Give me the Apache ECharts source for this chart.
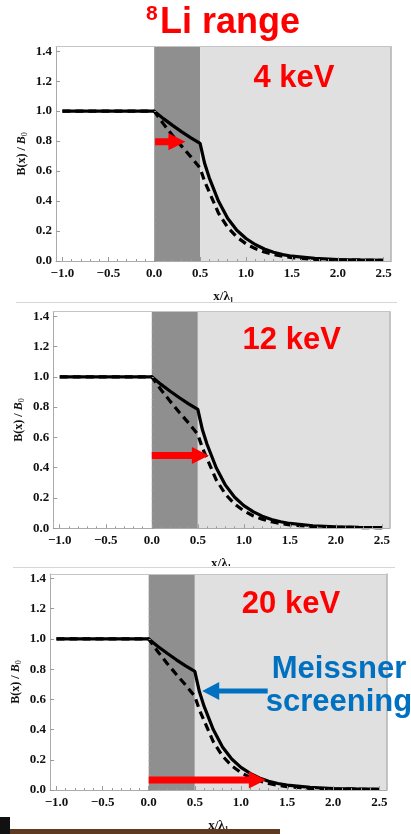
<!DOCTYPE html>
<html>
<head>
<meta charset="utf-8">
<title>8Li range</title>
<script src="https://cdn.jsdelivr.net/npm/echarts@6/dist/echarts.min.js"></script>
<style>
  html, body { margin: 0; padding: 0; background: #ffffff; }
  #chart { width: 411px; height: 834px; }
</style>
</head>
<body>
<div id="chart"></div>
<script>
// Axis tick labels
const xTicks = [-1.0, -0.5, 0.0, 0.5, 1.0, 1.5, 2.0, 2.5];
const yTicks = [0.0, 0.2, 0.4, 0.6, 0.8, 1.0, 1.2, 1.4];

// Implantation energies, one panel each
const energies = ['4 keV', '12 keV', '20 keV'];

// Field profile B(x)/B0 with the surface layer (solid)
const solidX = [-1.0, 0.0, 0.1, 0.2, 0.3, 0.4, 0.5, 0.55, 0.6, 0.7, 0.8, 0.9, 1.0, 1.1, 1.2, 1.3, 1.4, 1.5, 1.75, 2.0, 2.25, 2.5];
const solidB = [1.0, 1.0, 0.95, 0.905, 0.862, 0.822, 0.785, 0.65, 0.555, 0.40, 0.285, 0.205, 0.15, 0.11, 0.08, 0.058, 0.043, 0.032, 0.017, 0.010, 0.007, 0.005];

// Field profile of the bare bulk (dashed)
const dashedX = [-1.0, 0.0, 0.1, 0.2, 0.3, 0.4, 0.5, 0.55, 0.6, 0.7, 0.8, 0.9, 1.0, 1.1, 1.2, 1.3, 1.4, 1.5, 1.75, 2.0, 2.25, 2.5];
const dashedB = [1.0, 1.0, 0.915, 0.838, 0.765, 0.695, 0.62, 0.53, 0.46, 0.32, 0.225, 0.16, 0.115, 0.083, 0.06, 0.043, 0.031, 0.022, 0.011, 0.007, 0.005, 0.004];

// Surface layer boundaries (x / lambda1)
const layerEdges = [0.0, 0.5];

// Red arrows: mean stopping depth of the implanted 8Li at each energy
const arrowStart = [0.01, 0.0, 0.0];
const arrowEnd = [0.34, 0.62, 1.27];
const arrowLevel = [0.795, 0.48, 0.067];

// Blue arrow pointing at the kink (tail x, head x, level)
const screeningArrow = [1.29, 0.58, 0.655];

// ---- layout ----
const XMIN = -1.07, XMAX = 2.58, YMIN = 0, YMAX = 1.43;
const panels = [
  { left: 56,   top: 46.7, width: 335,   height: 214.3 },
  { left: 53.3, top: 311.7, width: 336,  height: 216.6 },
  { left: 50,   top: 574,  width: 336.7, height: 216 }
];
const energyLabelPos = [[294, 78.5], [291.7, 340], [291, 604]];

const serif = '"Liberation Serif", "DejaVu Serif", serif';
const sans = '"Liberation Sans", Arial, sans-serif';
const frameColor = '#ababab';
const tickColor = '#9a9a9a';

function minorValues(ticks, step) {
  const out = [];
  const a = ticks[0], b = ticks[ticks.length - 1];
  const n = Math.round((b - a) / step);
  for (let k = 0; k <= n; k++) out.push(+(a + k * step).toFixed(4));
  return out;
}
const xMinor = minorValues(xTicks, 0.1);
const yMinor = minorValues(yTicks, 0.05);

const fmt = v => (v < 0 ? '\u2212' : '') + Math.abs(v).toFixed(1);

const grids = [], xAxes = [], yAxes = [], series = [];

panels.forEach((p, i) => {
  grids.push({ left: p.left, top: p.top, width: p.width, height: p.height, containLabel: false });
  const base = i * 3;
  // bottom axis with labels and major ticks
  xAxes.push({
    gridIndex: i, type: 'value', min: XMIN, max: XMAX, position: 'bottom',
    axisLine: { show: true, onZero: false, lineStyle: { color: frameColor, width: 1 } },
    axisTick: { show: true, inside: true, length: 4, customValues: xTicks, lineStyle: { color: tickColor } },
    axisLabel: { customValues: xTicks, formatter: fmt, margin: 6, color: '#111', fontFamily: serif, fontWeight: 'bold', fontSize: 13 },
    splitLine: { show: false },
    name: 'x/\u03bb\u2081', nameLocation: 'middle', nameGap: 29,
    nameTextStyle: { color: '#111', fontFamily: serif, fontWeight: 'bold', fontSize: 13 },
    z: 5
  });
  // minor ticks
  xAxes.push({
    gridIndex: i, type: 'value', min: XMIN, max: XMAX, position: 'bottom',
    axisLine: { show: false },
    axisTick: { show: true, inside: true, length: 2, customValues: xMinor, lineStyle: { color: tickColor } },
    axisLabel: { show: false }, splitLine: { show: false }, z: 5
  });
  // top frame
  xAxes.push({
    gridIndex: i, type: 'value', min: XMIN, max: XMAX, position: 'top',
    axisLine: { show: true, onZero: false, lineStyle: { color: '#c4c4c4', width: 1 } },
    axisTick: { show: false }, axisLabel: { show: false }, splitLine: { show: false }, z: 5
  });

  yAxes.push({
    gridIndex: i, type: 'value', min: YMIN, max: YMAX, position: 'left',
    axisLine: { show: true, onZero: false, lineStyle: { color: frameColor, width: 1 } },
    axisTick: { show: true, inside: true, length: 4, customValues: yTicks, lineStyle: { color: tickColor } },
    axisLabel: { customValues: yTicks, formatter: fmt, margin: 4, color: '#111', fontFamily: serif, fontWeight: 'bold', fontSize: 13 },
    splitLine: { show: false },
    name: '{n|B(x) / }{i|B}{s|0}', nameLocation: 'middle', nameGap: 27, nameRotate: 90,
    nameMoveOverlap: false,
    nameTextStyle: {
      rich: {
        n: { fontFamily: serif, fontWeight: 'bold', fontSize: 12, color: '#111', lineHeight: 14 },
        i: { fontFamily: serif, fontStyle: 'italic', fontWeight: 'bold', fontSize: 12, color: '#111', lineHeight: 14 },
        s: { fontFamily: serif, fontSize: 8, color: '#111', lineHeight: 14, verticalAlign: 'bottom', padding: [4, 0, 0, 0] }
      }
    },
    z: 5
  });
  yAxes.push({
    gridIndex: i, type: 'value', min: YMIN, max: YMAX, position: 'left',
    axisLine: { show: false },
    axisTick: { show: true, inside: true, length: 2, customValues: yMinor, lineStyle: { color: tickColor } },
    axisLabel: { show: false }, splitLine: { show: false }, z: 5
  });
  yAxes.push({
    gridIndex: i, type: 'value', min: YMIN, max: YMAX, position: 'right',
    axisLine: { show: true, onZero: false, lineStyle: { color: '#b0b0b0', width: 1.5 } },
    axisTick: { show: false }, axisLabel: { show: false }, splitLine: { show: false }, z: 5
  });

  // shaded regions: surface layer (dark) and bulk (light)
  series.push({
    type: 'custom', xAxisIndex: base, yAxisIndex: base, z: 1, silent: true,
    data: [[layerEdges[0], layerEdges[1], 0], [layerEdges[1], XMAX, 1]],
    renderItem: (params, api) => {
      const a = api.coord([api.value(0), YMAX]);
      const b = api.coord([api.value(1), YMIN]);
      return {
        type: 'rect',
        shape: { x: a[0], y: a[1], width: b[0] - a[0], height: b[1] - a[1] },
        style: { fill: api.value(2) === 0 ? '#8f8f8f' : '#e0e0e0' }
      };
    }
  });

  series.push({
    type: 'line', xAxisIndex: base, yAxisIndex: base, z: 3, symbol: 'none', silent: true,
    data: dashedX.map((x, k) => [x, dashedB[k]]),
    lineStyle: { color: '#000', width: 3.2, type: [8, 5] }
  });
  series.push({
    type: 'line', xAxisIndex: base, yAxisIndex: base, z: 4, symbol: 'none', silent: true,
    data: solidX.map((x, k) => [x, solidB[k]]),
    lineStyle: { color: '#000', width: 3.2 }
  });

  const arrows = [[arrowStart[i], arrowEnd[i], arrowLevel[i], 0]];
  if (i === 2) arrows.push([screeningArrow[0], screeningArrow[1], screeningArrow[2], 1]);
  series.push({
    type: 'custom', xAxisIndex: base, yAxisIndex: base, z: 6, silent: true, clip: false,
    data: arrows,
    renderItem: (params, api) => {
      const blue = api.value(3) === 1;
      const p0 = api.coord([api.value(0), api.value(2)]);
      const p1 = api.coord([api.value(1), api.value(2)]);
      const dir = p1[0] >= p0[0] ? 1 : -1;
      const headLen = 17, headH = blue ? 18 : 17, shaft = blue ? 5 : 7;
      const hx = p1[0] - dir * headLen, y = p0[1];
      return {
        type: 'polygon',
        shape: { points: [
          [p0[0], y - shaft / 2], [hx, y - shaft / 2], [hx, y - headH / 2], [p1[0], y],
          [hx, y + headH / 2], [hx, y + shaft / 2], [p0[0], y + shaft / 2]
        ] },
        style: { fill: blue ? '#0070c0' : '#ff0000' }
      };
    }
  });
});

const graphics = [
  // panel separators
  { type: 'rect', shape: { x: 0, y: 566, width: 411, height: 6 }, style: { fill: '#ffffff' }, z: 50 },
  { type: 'line', shape: { x1: 16, y1: 302.5, x2: 397, y2: 302.5 }, style: { stroke: '#d6d6d6', lineWidth: 1 }, z: 51 },
  { type: 'line', shape: { x1: 13, y1: 567.5, x2: 395, y2: 567.5 }, style: { stroke: '#d6d6d6', lineWidth: 1 }, z: 51 },
  // title
  { type: 'text', x: 146, y: 14.5, z: 60, style: { text: '8', fill: '#ff0000', font: 'bold 21px ' + sans, textAlign: 'left', textVerticalAlign: 'middle' } },
  { type: 'text', x: 160, y: 23, z: 60, style: { text: 'Li range', fill: '#ff0000', font: 'bold 36px ' + sans, textAlign: 'left', textVerticalAlign: 'middle' } },
  // annotation
  { type: 'text', x: 339, y: 669, z: 60, style: { text: 'Meissner', fill: '#0070c0', font: 'bold 31px ' + sans, textAlign: 'center', textVerticalAlign: 'middle' } },
  { type: 'text', x: 339, y: 702, z: 60, style: { text: 'screening', fill: '#0070c0', font: 'bold 31px ' + sans, textAlign: 'center', textVerticalAlign: 'middle' } },
  // bottom edge
  { type: 'rect', shape: { x: 0, y: 817, width: 10, height: 17 }, style: { fill: '#111111' }, z: 55 },
  { type: 'rect', shape: { x: 10, y: 829, width: 270, height: 5 }, style: { fill: '#5e3a22' }, z: 55 }
];
energies.forEach((e, i) => {
  graphics.push({ type: 'text', x: energyLabelPos[i][0], y: energyLabelPos[i][1], z: 60,
    style: { text: e, fill: '#ff0000', font: 'bold 31px ' + sans, textAlign: 'center', textVerticalAlign: 'middle' } });
});

const chart = echarts.init(document.getElementById('chart'), null, { renderer: 'canvas' });
chart.setOption({
  backgroundColor: '#ffffff',
  animation: false,
  grid: grids,
  xAxis: xAxes,
  yAxis: yAxes,
  series: series,
  graphic: graphics
});
</script>
</body>
</html>
